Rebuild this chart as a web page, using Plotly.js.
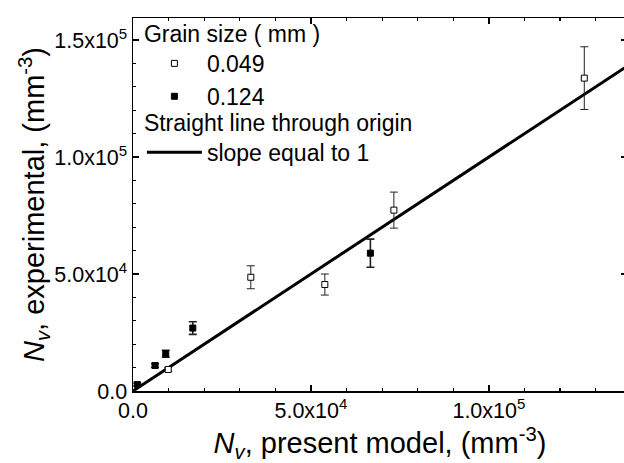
<!DOCTYPE html>
<html>
<head>
<meta charset="utf-8">
<script src="https://cdn.plot.ly/plotly-3.0.1.min.js"></script>
<style>
html,body{margin:0;padding:0;overflow:hidden;background:#fff;}
#chart{width:640px;height:463px;}
</style>
</head>
<body>
<div id="chart"></div>
<script>
// Grain size 0.049 mm (open squares)
const fineX = [126800, 73300, 53900, 33100, 9900];
const fineY = [133700, 77300, 45500, 48600, 9200];
const fineErr = [13400, 7700, 4500, 4900, 800];
// Grain size 0.124 mm (filled squares)
const coarseX = [66700, 16800, 9200, 6200, 1200];
const coarseY = [58900, 26900, 15900, 10900, 2800];
const coarseErr = [6000, 2700, 1500, 800, 600];
// Straight line through origin, slope 1
const lineX = [0, 140000];
const lineY = [0, 140000];
// Tick labels
const tickVals = [0, 50000, 100000, 150000];
const tickText = ["0.0", "5.0x10<sup>4</sup>", "1.0x10<sup>5</sup>", "1.5x10<sup>5</sup>"];

const FONT = "Arial, 'Liberation Sans', sans-serif";

const traces = [
  {
    x: lineX, y: lineY, mode: 'lines', name: 'slope equal to 1',
    line: {color: '#000', width: 3}, legend: 'legend2', showlegend: true
  },
  {
    x: fineX, y: fineY, mode: 'markers', name: '0.049',
    marker: {symbol: 'square', size: 6, color: '#fff', line: {color: '#000', width: 1}},
    error_y: {type: 'data', array: fineErr, visible: true, color: '#222', thickness: 1, width: 4},
    legend: 'legend'
  },
  {
    x: coarseX, y: coarseY, mode: 'markers', name: '0.124',
    marker: {symbol: 'square', size: 6, color: '#000', line: {color: '#000', width: 1}},
    error_y: {type: 'data', array: coarseErr, visible: true, color: '#222', thickness: 1.6, width: 4},
    legend: 'legend'
  }
];

const axisCommon = {
  showline: true, linecolor: '#000', linewidth: 1.5, mirror: 'ticks',
  ticks: 'inside', ticklen: 6, tickwidth: 1.2, tickcolor: '#000',
  showgrid: false, zeroline: false,
  tickvals: tickVals, ticktext: tickText,
  tickfont: {family: FONT, size: 21.5, color: '#000'},
  minor: {dtick: 10000, ticks: 'inside', ticklen: 3, tickwidth: 1.2, tickcolor: '#000', showgrid: false}
};

const LEGFONT = {family: FONT, size: 23, color: '#000'};

const layout = {
  width: 640, height: 463,
  margin: {l: 133, r: 13, t: 14, b: 72},
  paper_bgcolor: '#fff', plot_bgcolor: '#fff',
  font: {family: FONT, color: '#000'},
  xaxis: Object.assign({}, axisCommon, {
    range: [0, 138800],
    title: {text: '<i>N<sub>v</sub></i>, present model, (mm<sup>-3</sup>)', font: {family: FONT, size: 29, color: '#000'}, standoff: 3}
  }),
  yaxis: Object.assign({}, axisCommon, {
    range: [0, 159400],
    title: {text: '<i>N<sub>v</sub></i>, experimental, (mm<sup>-3</sup>)', font: {family: FONT, size: 29, color: '#000'}, standoff: 1}
  }),
  legend: {
    x: 0.018, y: 1.016, xanchor: 'left', yanchor: 'top',
    bgcolor: 'rgba(0,0,0,0)', borderwidth: 0,
    font: LEGFONT,
    title: {text: 'Grain size ( mm )', font: LEGFONT},
    itemwidth: 55, tracegroupgap: 0
  },
  legend2: {
    x: 0.018, y: 0.778, xanchor: 'left', yanchor: 'top',
    bgcolor: 'rgba(0,0,0,0)', borderwidth: 0,
    font: LEGFONT,
    title: {text: 'Straight line through origin', font: LEGFONT},
    itemwidth: 55
  },
  showlegend: true
};

Plotly.newPlot('chart', traces, layout, {displayModeBar: false, staticPlot: true});
</script>
</body>
</html>
